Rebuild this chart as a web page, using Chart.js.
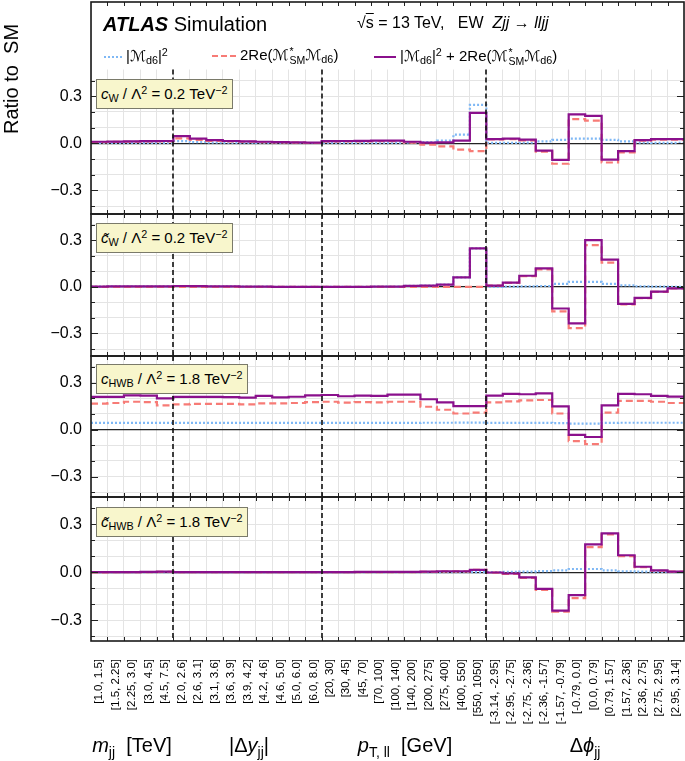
<!DOCTYPE html>
<html>
<head>
<meta charset="utf-8">
<script src="https://cdn.jsdelivr.net/npm/chart.js@4.4.0/dist/chart.umd.min.js"></script>
<style>
  body { margin:0; background:#fff; }
  #wrap { position:relative; width:685px; height:761px; overflow:hidden; font-family:"Liberation Sans", Arial, "DejaVu Sans", sans-serif; color:#000; }
  canvas { position:absolute; left:0; }
  .t { position:absolute; white-space:nowrap; line-height:1; }
  .box { position:absolute; left:96px; background:#f8f6cc; border:1px solid #7a7a6a; padding:2px 4px 1px 4px; font-size:15px; line-height:17px; white-space:nowrap; }
  .box sub, .t sub { font-size:0.72em; vertical-align:-0.25em; }
  .box sup, .t sup { font-size:0.72em; vertical-align:0.5em; }
  .key { display:inline-block; vertical-align:middle; margin-right:4px; }
  .ss { display:inline-flex; flex-direction:column; font-size:10.5px; line-height:9px; vertical-align:5px; margin-left:1px; }
  .grp { position:absolute; top:733px; font-size:20px; line-height:24px; white-space:nowrap; transform:translateX(-50%); }
</style>
</head>
<body>
<div id="wrap">
  <canvas id="c1" width="685" height="215" style="top:0px"></canvas>
  <canvas id="c2" width="685" height="145" style="top:213px"></canvas>
  <canvas id="c3" width="685" height="144" style="top:355px"></canvas>
  <canvas id="c4" width="685" height="265" style="top:496px"></canvas>

  <div class="t" style="left:103px; top:14px; font-size:20px;"><b><i>ATLAS</i></b> Simulation</div>
  <div class="t" style="left:357px; top:15px; font-size:16px;">√<span style="text-decoration:overline">s</span> = 13 TeV,&nbsp;&nbsp;&nbsp;EW&nbsp;&nbsp;<i>Zjj</i> → <i>lljj</i></div>

  <div class="t" style="left:104px; top:47px; font-size:15px;"><span class="key" style="width:18px; border-top:2px dotted #7fb8f5;"></span>|ℳ<sub>d6</sub>|<sup>2</sup></div>
  <div class="t" style="left:212px; top:47px; font-size:15px;"><span class="key" style="width:24px; border-top:2px dashed #f77b76;"></span>2Re(ℳ<span class="ss"><span>*</span><span>SM</span></span>ℳ<sub>d6</sub>)</div>
  <div class="t" style="left:374px; top:47px; font-size:15px;"><span class="key" style="width:22px; border-top:2px solid #8a108c;"></span>|ℳ<sub>d6</sub>|<sup>2</sup> + 2Re(ℳ<span class="ss"><span>*</span><span>SM</span></span>ℳ<sub>d6</sub>)</div>

  <div class="t" style="left:11px; top:79px; font-size:20px; transform:translate(-50%,-50%) rotate(-90deg);">Ratio to&nbsp; SM</div>

  <div class="box" style="top:79px;"><i>c</i><sub>W</sub> / Λ<sup>2</sup> = 0.2 TeV<sup>−2</sup></div>
  <div class="box" style="top:223px;"><i>c̃</i><sub>W</sub> / Λ<sup>2</sup> = 0.2 TeV<sup>−2</sup></div>
  <div class="box" style="top:364px;"><i>c</i><sub>HWB</sub> / Λ<sup>2</sup> = 1.8 TeV<sup>−2</sup></div>
  <div class="box" style="top:507px;"><i>c̃</i><sub>HWB</sub> / Λ<sup>2</sup> = 1.8 TeV<sup>−2</sup></div>

  <div class="grp" style="left:132px;"><i>m</i><sub style="font-size:14px">jj</sub>&nbsp; [TeV]</div>
  <div class="grp" style="left:249px;">|Δ<i>y</i><sub style="font-size:14px">jj</sub>|</div>
  <div class="grp" style="left:405px;"><i>p</i><sub style="font-size:14px">T, ll</sub>&nbsp; [GeV]</div>
  <div class="grp" style="left:585px;">Δ<i>ϕ</i><sub style="font-size:14px">jj</sub></div>
</div>

<script>
// bin labels, grouped: m_jj (5), |dy_jj| (9), pT,ll (10), dphi_jj (12)
const binLabels = [
  "[1.0, 1.5]", "[1.5, 2.25]", "[2.25, 3.0]", "[3.0, 4.5]", "[4.5, 7.5]",
  "[2.0, 2.6]", "[2.6, 3.1]", "[3.1, 3.6]", "[3.6, 3.9]", "[3.9, 4.2]", "[4.2, 4.6]", "[4.6, 5.0]", "[5.0, 6.0]", "[6.0, 8.0]",
  "[20, 30]", "[30, 45]", "[45, 70]", "[70, 100]", "[100, 140]", "[140, 200]", "[200, 275]", "[275, 400]", "[400, 550]", "[550, 1050]",
  "[-3.14, -2.95]", "[-2.95, -2.75]", "[-2.75, -2.36]", "[-2.36, -1.57]", "[-1.57, -0.79]", "[-0.79, 0.0]", "[0.0, 0.79]", "[0.79, 1.57]", "[1.57, 2.36]", "[2.36, 2.75]", "[2.75, 2.95]", "[2.95, 3.14]"
];
const groupSizes = [5, 9, 10, 12];

const yGridValues = [-0.4, -0.3, -0.2, -0.1, 0, 0.1, 0.2, 0.3, 0.4];
const yTickValues = [-0.3, 0, 0.3];
const yTickLabels = ["\u22120.3", "0.0", "0.3"];

// c_W / Lambda^2 = 0.2
const cwSq  = [0.002,0.002,0.002,0.002,0.002, 0.014,0.008,0.005,0.003,0.003,0.002,0.002,0.002,0.002, 0.003,0.003,0.003,0.003,0.003,0.005,0.008,0.017,0.055,0.245, 0.003,0.003,0.005,0.013,0.022,0.030,0.030,0.022,0.012,0.004,0.003,0.003];
const cwInt = [0.008,0.009,0.010,0.012,0.013, 0.032,0.022,0.015,0.012,0.010,0.008,0.006,0.004,0.002, 0.012,0.013,0.013,0.014,0.014,0.005,-0.008,-0.020,-0.040,-0.050, 0.025,0.027,0.018,-0.053,-0.130,0.154,0.145,-0.122,-0.058,0.017,0.024,0.024];
const cwSum = [0.010,0.011,0.012,0.014,0.015, 0.046,0.030,0.020,0.015,0.012,0.010,0.008,0.006,0.004, 0.014,0.015,0.016,0.017,0.017,0.010,0.004,0.006,0.017,0.194, 0.027,0.030,0.023,-0.046,-0.105,0.184,0.175,-0.104,-0.049,0.021,0.027,0.027];

// c~_W / Lambda^2 = 0.2
const cwtSq  = [0.002,0.003,0.004,0.004,0.004, 0.006,0.005,0.004,0.003,0.002,0.002,0.001,0.001,0.001, 0.001,0.001,0.001,0.002,0.002,0.007,0.009,0.015,0.061,0.248, 0.001,0.002,0.003,0.006,0.020,0.033,0.033,0.020,0.010,0.004,0.002,0.001];
const cwtInt = [0,0,0,0,0, 0,0,0,0,0,0,0,0,0, 0,0,0,0,0,0,0,0,0,0, 0.008,0.026,0.069,0.113,-0.157,-0.265,0.270,0.157,-0.113,-0.073,-0.032,-0.010];
const cwtSum = [0.002,0.003,0.004,0.004,0.004, 0.006,0.005,0.004,0.003,0.002,0.002,0.001,0.001,0.001, 0.001,0.001,0.001,0.002,0.002,0.007,0.009,0.015,0.061,0.248, 0.009,0.028,0.072,0.120,-0.139,-0.235,0.302,0.176,-0.109,-0.070,-0.030,-0.009];

// c_HWB / Lambda^2 = 1.8
const chwbSq  = [0.043,0.043,0.043,0.043,0.043, 0.043,0.043,0.043,0.043,0.043,0.043,0.043,0.043,0.043, 0.043,0.043,0.043,0.043,0.043,0.043,0.044,0.044,0.045,0.045, 0.043,0.043,0.043,0.043,0.042,0.038,0.038,0.043,0.044,0.044,0.044,0.044];
const chwbInt = [0.166,0.170,0.178,0.176,0.155, 0.161,0.165,0.165,0.165,0.161,0.168,0.168,0.170,0.176, 0.178,0.172,0.176,0.174,0.178,0.178,0.146,0.127,0.103,0.108, 0.174,0.181,0.187,0.189,0.103,-0.073,-0.092,0.108,0.183,0.183,0.178,0.170];
const chwbSum = [0.209,0.209,0.219,0.217,0.200, 0.209,0.209,0.209,0.207,0.204,0.215,0.206,0.210,0.219, 0.221,0.213,0.217,0.215,0.224,0.224,0.194,0.174,0.150,0.150, 0.217,0.228,0.226,0.232,0.148,-0.034,-0.047,0.155,0.228,0.226,0.215,0.211];

// c~_HWB / Lambda^2 = 1.8
const chwbtSq  = [0.001,0.001,0.001,0.001,0.001, 0.001,0.001,0.001,0.001,0.001,0.001,0.001,0.001,0.001, 0.001,0.001,0.001,0.001,0.001,0.001,0.001,0.001,0.001,0.001, 0.001,0.002,0.004,0.007,0.012,0.020,0.020,0.012,0.006,0.003,0.002,0.001];
const chwbtInt = [-0.001,0,0,0.001,0.002, 0,0,0,0,0,0,0,0,0, 0,0,0.001,0.001,0.001,0.001,0.002,0.005,0.005,0.014, -0.003,-0.010,-0.036,-0.110,-0.247,-0.162,0.157,0.236,0.100,0.031,0.009,0.003];
const chwbtSum = [0.000,0.001,0.001,0.002,0.003, 0.001,0.001,0.001,0.001,0.001,0.001,0.001,0.001,0.001, 0.001,0.001,0.002,0.002,0.002,0.002,0.003,0.006,0.006,0.015, -0.002,-0.008,-0.032,-0.104,-0.240,-0.143,0.174,0.243,0.106,0.034,0.011,0.004];

const nBins = binLabels.length;
const groupEdges = groupSizes.slice(0, -1).reduce((acc, n) => { acc.push((acc.length ? acc[acc.length - 1] : 0) + n); return acc; }, []);

// histogram outline: each bin becomes a flat segment from its low to high edge
function histPoints(vals) {
  const pts = [];
  vals.forEach((v, i) => { pts.push({ x:i, y:v }); pts.push({ x:i + 1, y:v }); });
  return pts;
}

const gridColor = "#e4e4e4";

const panelDeco = {
  id:"panelDeco",
  beforeDatasetsDraw(chart, args, opts) {
    if (opts.cutAbove == null) return;
    const { ctx, chartArea:a, scales:{ y } } = chart;
    ctx.save();
    ctx.fillStyle = "#fff";
    ctx.fillRect(a.left + 1, a.top + 1, a.right - a.left - 2, y.getPixelForValue(opts.cutAbove) - a.top - 1);
    ctx.restore();
  },
  afterDatasetsDraw(chart, args, opts) {
    const { ctx, chartArea:a, scales:{ x, y } } = chart;
    const top = opts.cutAbove == null ? a.top : y.getPixelForValue(opts.cutAbove);
    ctx.save();
    ctx.strokeStyle = "#111";
    ctx.lineWidth = 1.6;
    ctx.setLineDash([5, 3]);
    groupEdges.forEach(v => {
      const px = Math.round(x.getPixelForValue(v));
      ctx.beginPath(); ctx.moveTo(px, top); ctx.lineTo(px, a.bottom); ctx.stroke();
    });
    ctx.setLineDash([]);
    ctx.lineWidth = 1;
    ctx.strokeStyle = "#222";
    for (let i = 1; i < nBins; i++) {
      const px = Math.round(x.getPixelForValue(i)) + 0.5;
      ctx.beginPath();
      ctx.moveTo(px, a.bottom); ctx.lineTo(px, a.bottom - 4);
      ctx.moveTo(px, a.top); ctx.lineTo(px, a.top + 4);
      ctx.stroke();
    }
    yGridValues.forEach(v => {
      const py = Math.round(y.getPixelForValue(v)) + 0.5;
      const len = yTickValues.some(t => Math.abs(t - v) < 1e-9) ? 7 : 4;
      ctx.beginPath();
      ctx.moveTo(a.left, py); ctx.lineTo(a.left + len, py);
      ctx.moveTo(a.right, py); ctx.lineTo(a.right - len, py);
      ctx.stroke();
    });
    ctx.lineWidth = 1.6;
    ctx.strokeStyle = "#1a1a1a";
    ctx.strokeRect(a.left, a.top, a.right - a.left, a.bottom - a.top);
    ctx.restore();
  }
};

function makePanel(id, sq, inter, sum, yMin, yMax, padTop, padBottom, cutAbove, showLabels) {
  const scales = {
    x:{
      type:"linear", min:0, max:nBins,
      afterBuildTicks:s => { s.ticks = binLabels.map((_, i) => ({ value:i })).concat([{ value:nBins }]); },
      ticks:{ display:false },
      grid:{ color:gridColor, drawTicks:false },
      border:{ display:false },
      afterFit:s => { s.height = 0; s.paddingLeft = 0; s.paddingRight = 0; }
    },
    y:{
      min:yMin, max:yMax,
      afterBuildTicks:s => { s.ticks = yGridValues.map(v => ({ value:v })); },
      ticks:{
        autoSkip:false, color:"#000", padding:9, font:{ family:"Liberation Sans", size:16 },
        callback:v => {
          const k = yTickValues.findIndex(t => Math.abs(t - v) < 1e-9);
          return k >= 0 ? yTickLabels[k] : "";
        }
      },
      grid:{
        color:c => Math.abs(c.tick.value) < 1e-9 ? "#222" : gridColor,
        lineWidth:c => Math.abs(c.tick.value) < 1e-9 ? 1.2 : 1,
        drawTicks:false
      },
      border:{ display:false },
      afterFit:s => { s.width = 91; s.paddingTop = 0; s.paddingBottom = 0; }
    }
  };
  if (showLabels) {
    scales.xl = {
      type:"linear", position:"bottom", min:0, max:nBins,
      afterBuildTicks:s => { s.ticks = binLabels.map((_, i) => ({ value:i + 0.5 })); },
      ticks:{
        autoSkip:false, minRotation:90, maxRotation:90, padding:10, color:"#000",
        font:{ family:"Liberation Sans", size:11.5 },
        callback:(v, i) => binLabels[i]
      },
      grid:{ display:false },
      border:{ display:false },
      afterFit:s => { s.height = 120; s.paddingLeft = 0; s.paddingRight = 0; }
    };
  }
  return new Chart(document.getElementById(id), {
    type:"line",
    data:{
      datasets:[
        { data:histPoints(sum), borderColor:"#8a108c", borderWidth:2.2, pointRadius:0, tension:0, fill:false, borderJoinStyle:"miter" },
        { data:histPoints(inter), borderColor:"#f77b76", borderWidth:2.2, borderDash:[7, 4], pointRadius:0, tension:0, fill:false, borderJoinStyle:"miter" },
        { data:histPoints(sq), borderColor:"#7fb8f5", borderWidth:2.2, borderDash:[2, 2], pointRadius:0, tension:0, fill:false, borderJoinStyle:"miter" }
      ]
    },
    options:{
      responsive:false,
      animation:false,
      events:[],
      layout:{ padding:{ top:padTop, bottom:padBottom, left:0, right:1 } },
      plugins:{ legend:{ display:false }, tooltip:{ enabled:false }, panelDeco:{ cutAbove } },
      scales
    },
    plugins:[panelDeco]
  });
}

makePanel("c1", cwSq, cwInt, cwSum, -0.45, 0.9, 2, 1, 0.47, false);
makePanel("c2", cwtSq, cwtInt, cwtSum, -0.445, 0.47, 1, 2, null, false);
makePanel("c3", chwbSq, chwbInt, chwbSum, -0.43, 0.47, 1, 2, null, false);
makePanel("c4", chwbtSq, chwbtInt, chwbtSum, -0.43, 0.47, 1, 0, null, true);
</script>
</body>
</html>
